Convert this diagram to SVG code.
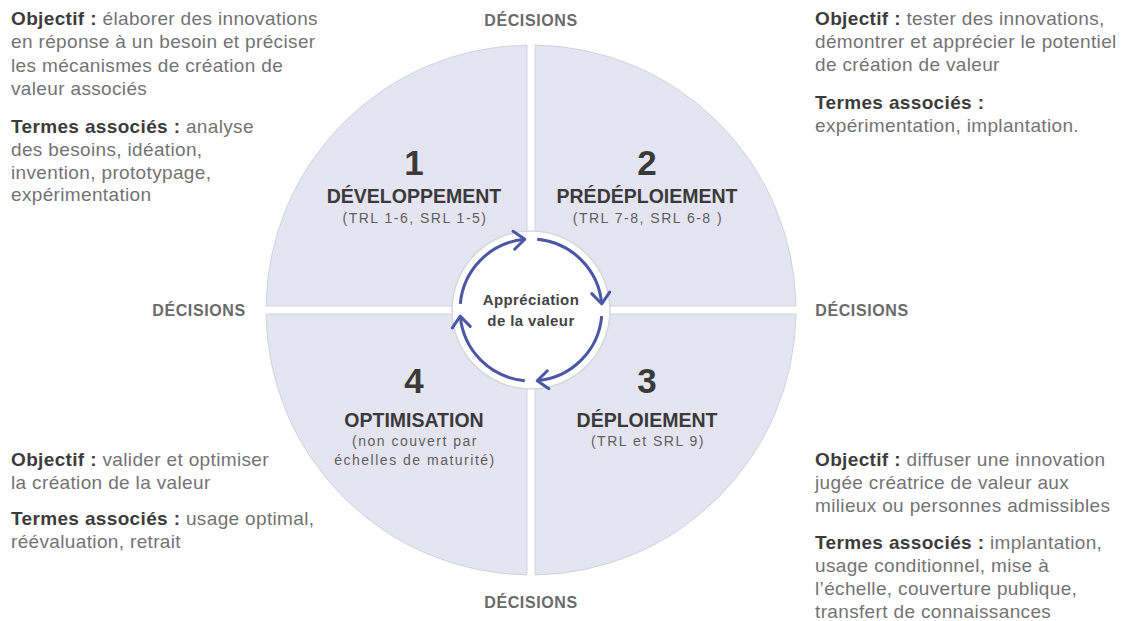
<svg xmlns="http://www.w3.org/2000/svg" width="1135" height="621" viewBox="0 0 1135 621">
<style>
.q{fill:#e5e5f1;stroke:#d2d2de;stroke-width:1;stroke-linejoin:round}
.num{font-family:"Liberation Sans",Arial,sans-serif;font-weight:bold;font-size:35px;fill:#3a3a3a;text-anchor:middle}
.ttl{font-family:"Liberation Sans",Arial,sans-serif;font-weight:bold;font-size:19.5px;fill:#3a3a3a;text-anchor:middle}
.sub{font-family:"Liberation Sans",Arial,sans-serif;font-size:14px;letter-spacing:1.5px;fill:#5e5e5e;text-anchor:middle}
.dec{font-family:"Liberation Sans",Arial,sans-serif;font-weight:bold;font-size:16px;letter-spacing:0.6px;fill:#6a6a6a;text-anchor:middle}
.body{font-family:"Liberation Sans",Arial,sans-serif;font-size:19px;letter-spacing:0.35px;fill:#737373}
.b{font-weight:bold;fill:#3c3c3c}
.ctr{font-family:"Liberation Sans",Arial,sans-serif;font-weight:bold;font-size:15px;letter-spacing:0.4px;fill:#444;text-anchor:middle}
.arc{fill:none;stroke:#4b56a5;stroke-width:3;marker-end:url(#chev)}
</style>
<defs>
<marker id="chev" markerUnits="userSpaceOnUse" viewBox="-16 -16 32 32" markerWidth="32" markerHeight="32" refX="0" refY="0" orient="auto" overflow="visible">
<path d="M -11 -9 L 0 0 L -11 9" fill="none" stroke="#4b56a5" stroke-width="3" stroke-linecap="round" stroke-linejoin="round"/>
</marker>
</defs>
<rect width="1135" height="621" fill="#ffffff"/>

<g id="q1">
<path class="q" d="M 527 306 L 266.03 306 A 265 265 0 0 1 527 45.03 Z"/>
<text class="num" x="414" y="175">1</text>
<text class="ttl" x="414" y="203">DÉVELOPPEMENT</text>
<text class="sub" x="415" y="223">(TRL 1-6, SRL 1-5)</text>
</g>
<g id="q2">
<path class="q" d="M 535 306 L 535 45.03 A 265 265 0 0 1 795.97 306 Z"/>
<text class="num" x="647" y="175">2</text>
<text class="ttl" x="647" y="203">PRÉDÉPLOIEMENT</text>
<text class="sub" x="648" y="223">(TRL 7-8, SRL 6-8 )</text>
</g>
<g id="q3">
<path class="q" d="M 535 314 L 795.97 314 A 265 265 0 0 1 535 574.97 Z"/>
<text class="num" x="647" y="393">3</text>
<text class="ttl" x="647" y="427">DÉPLOIEMENT</text>
<text class="sub" x="648" y="446">(TRL et SRL 9)</text>
</g>
<g id="q4">
<path class="q" d="M 527 314 L 527 574.97 A 265 265 0 0 1 266.03 314 Z"/>
<text class="num" x="414" y="393">4</text>
<text class="ttl" x="414" y="427">OPTIMISATION</text>
<text class="sub" x="415" y="446">(non couvert par</text>
<text class="sub" x="415" y="465">échelles de maturité)</text>
</g>

<g id="center">
<circle cx="531" cy="310" r="79" fill="#ffffff" stroke="#d6d6de" stroke-width="1.5"/>
<text class="ctr" x="531" y="305">Appréciation</text>
<text class="ctr" x="531" y="326">de la valeur</text>
</g>

<g id="connectors">
<path class="arc" d="M 460.3 303.8 A 71 71 0 0 1 524.8 239.3"/>
<path class="arc" d="M 537.2 239.3 A 71 71 0 0 1 601.7 303.8"/>
<path class="arc" d="M 601.7 316.2 A 71 71 0 0 1 537.2 380.7"/>
<path class="arc" d="M 524.8 380.7 A 71 71 0 0 1 460.3 316.2"/>
</g>

<g id="decisions">
<text class="dec" x="531" y="26">DÉCISIONS</text>
<text class="dec" x="199" y="316">DÉCISIONS</text>
<text class="dec" x="862" y="316">DÉCISIONS</text>
<text class="dec" x="531" y="608">DÉCISIONS</text>
</g>

<g id="text-developpement">
<text class="body" x="11" y="25"><tspan class="b">Objectif :</tspan> élaborer des innovations</text>
<text class="body" x="11" y="48">en réponse à un besoin et préciser</text>
<text class="body" x="11" y="72">les mécanismes de création de</text>
<text class="body" x="11" y="95">valeur associés</text>
<text class="body" x="11" y="133"><tspan class="b">Termes associés :</tspan> analyse</text>
<text class="body" x="11" y="156">des besoins, idéation,</text>
<text class="body" x="11" y="179">invention, prototypage,</text>
<text class="body" x="11" y="201">expérimentation</text>
</g>

<g id="text-predeploiement">
<text class="body" x="815" y="25"><tspan class="b">Objectif :</tspan> tester des innovations,</text>
<text class="body" x="815" y="48">démontrer et apprécier le potentiel</text>
<text class="body" x="815" y="71">de création de valeur</text>
<text class="body" x="815" y="109"><tspan class="b">Termes associés :</tspan></text>
<text class="body" x="815" y="132">expérimentation, implantation.</text>
</g>

<g id="text-optimisation">
<text class="body" x="11" y="466"><tspan class="b">Objectif :</tspan> valider et optimiser</text>
<text class="body" x="11" y="489">la création de la valeur</text>
<text class="body" x="11" y="525"><tspan class="b">Termes associés :</tspan> usage optimal,</text>
<text class="body" x="11" y="548">réévaluation, retrait</text>
</g>

<g id="text-deploiement">
<text class="body" x="815" y="466"><tspan class="b">Objectif :</tspan> diffuser une innovation</text>
<text class="body" x="815" y="489">jugée créatrice de valeur aux</text>
<text class="body" x="815" y="512">milieux ou personnes admissibles</text>
<text class="body" x="815" y="549"><tspan class="b">Termes associés :</tspan> implantation,</text>
<text class="body" x="815" y="572">usage conditionnel, mise à</text>
<text class="body" x="815" y="595">l’échelle, couverture publique,</text>
<text class="body" x="815" y="618">transfert de connaissances</text>
</g>
</svg>
